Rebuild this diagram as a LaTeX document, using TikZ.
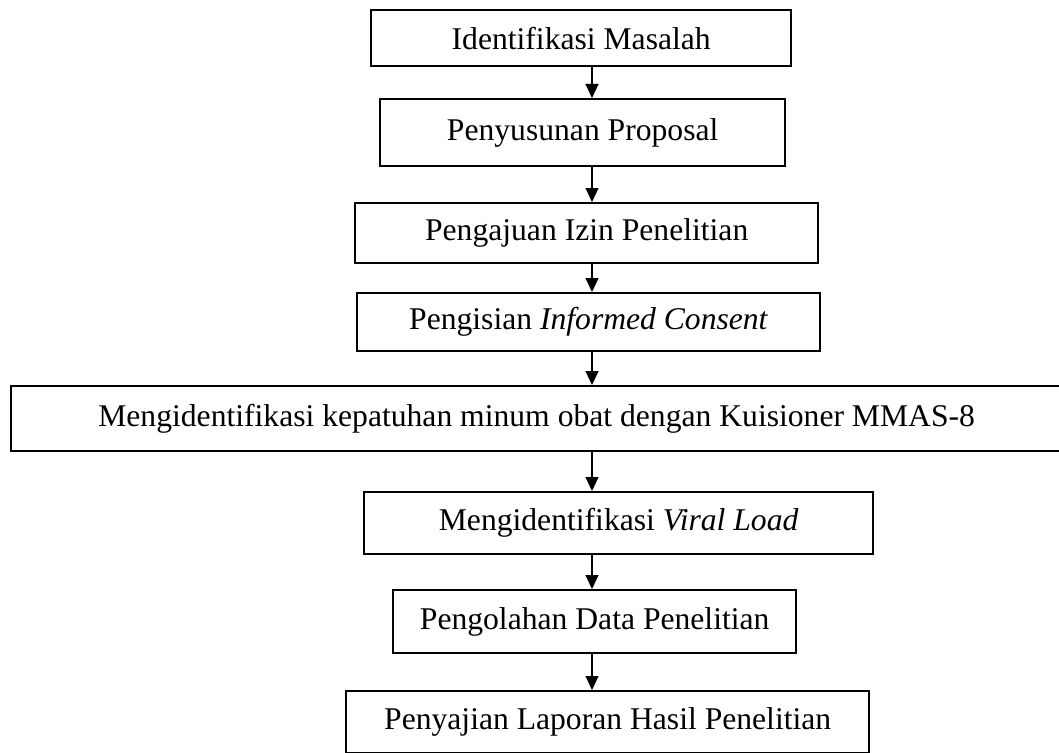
\documentclass[tikz,border=0pt]{standalone}
\usepackage{fontspec}
\setmainfont{Liberation Serif}
\usetikzlibrary{arrows.meta}

\begin{document}
\begin{tikzpicture}[x=0.02cm, y=-0.02cm, font=\fontsize{18}{21.6}\selectfont,
  stepbox/.style={draw=black, line width=1.4pt, inner sep=0pt, anchor=north west},
  flow/.style={-{Triangle[width=2.6mm, length=2.8mm]}, line width=0.6pt}]
  \useasboundingbox (0,0) rectangle (1059,753);
  \coordinate (axis) at (592,0);

  % tahap persiapan
  \node[stepbox, minimum width=8.4cm, minimum height=1.12cm] (b1) at (370,9) {Identifikasi Masalah};
  \node[stepbox, minimum width=8.1cm, minimum height=1.34cm] (b2) at (379,98) {Penyusunan Proposal};
  \node[stepbox, minimum width=9.26cm, minimum height=1.2cm] (b3) at (354,202) {Pengajuan Izin Penelitian};
  \node[stepbox, minimum width=9.26cm, minimum height=1.16cm] (b4) at (356,292) {Pengisian \textit{Informed Consent}};

  % tahap pelaksanaan
  \node[stepbox, minimum width=21.02cm, minimum height=1.3cm] (b5) at (10,385) {Mengidentifikasi kepatuhan minum obat dengan Kuisioner MMAS-8};
  \node[stepbox, minimum width=10.18cm, minimum height=1.24cm] (b6) at (363,491) {Mengidentifikasi \textit{Viral Load}};
  \node[stepbox, minimum width=8.06cm, minimum height=1.26cm] (b7) at (392,589) {Pengolahan Data Penelitian};
  \node[stepbox, minimum width=10.46cm, minimum height=1.24cm] (b8) at (345,690) {Penyajian Laporan Hasil Penelitian};

  % panah
  \foreach \a/\b in {b1/b2, b2/b3, b3/b4, b4/b5, b5/b6, b6/b7, b7/b8}
    \draw[flow] (\a.south -| axis) -- (\b.north -| axis);
\end{tikzpicture}
\end{document}
